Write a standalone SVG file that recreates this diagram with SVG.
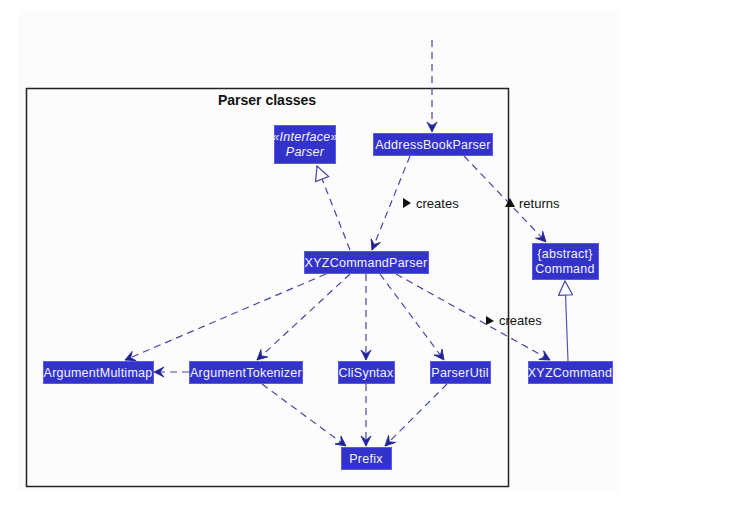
<svg xmlns="http://www.w3.org/2000/svg" width="748" height="507" viewBox="0 0 748 507">
<defs>
<style>
.node rect{fill:#3333cc;stroke:#5a5af0;stroke-width:1}
.node text{fill:#f4f4ff;font-family:"Liberation Sans",Arial,sans-serif;font-size:12.5px;letter-spacing:0.25px;text-anchor:middle}
.e{fill:none;stroke:#4444aa;stroke-width:1.2;stroke-dasharray:7,5}
.s{fill:none;stroke:#5555bb;stroke-width:1.2}
.lbl{font-family:"Liberation Sans",Arial,sans-serif;font-size:13px;fill:#111}
</style>
<marker id="v" viewBox="0 0 12 12" refX="11" refY="6" markerWidth="12" markerHeight="12" markerUnits="userSpaceOnUse" orient="auto">
<path d="M1,1 L11,6 L1,11 L5,6 Z" fill="#222299" stroke="#222299" stroke-width="0.8"/>
</marker>
<marker id="t" viewBox="0 0 16 16" refX="15" refY="8" markerWidth="16" markerHeight="16" markerUnits="userSpaceOnUse" orient="auto">
<path d="M1,1 L15,8 L1,15 Z" fill="#fff" stroke="#4444aa" stroke-width="1.2"/>
</marker>
</defs>
<rect x="0" y="0" width="748" height="507" fill="#ffffff"/>
<rect x="18" y="10" width="602" height="483" fill="#fcfcfc"/>
<g id="package">
<rect x="26.5" y="88.5" width="482" height="398" fill="none" stroke="#222" stroke-width="1.5"/>
<text x="267" y="105" font-family="Liberation Sans,Arial,sans-serif" font-size="14" font-weight="bold" text-anchor="middle" fill="#111">Parser classes</text>
</g>
<g id="connectors">
<path class="e" d="M432,40 L432,132" marker-end="url(#v)"/>
<path class="e" d="M350,250 L317,166" marker-end="url(#t)"/>
<path class="e" d="M410,156 L372,250" marker-end="url(#v)"/>
<path class="e" d="M464,156 L546,242" marker-end="url(#v)"/>
<path class="e" d="M326,274 L125,360" marker-end="url(#v)"/>
<path class="e" d="M350,274 L257,360" marker-end="url(#v)"/>
<path class="e" d="M366,274 L366,360" marker-end="url(#v)"/>
<path class="e" d="M380,274 L444,360" marker-end="url(#v)"/>
<path class="e" d="M396,274 L550,360" marker-end="url(#v)"/>
<path class="e" d="M189,372 L154,372" marker-end="url(#v)"/>
<path class="e" d="M262,384 L346,446" marker-end="url(#v)"/>
<path class="e" d="M366,384 L366,446" marker-end="url(#v)"/>
<path class="e" d="M447,384 L385,446" marker-end="url(#v)"/>
<path class="s" d="M568,361 L565,281" marker-end="url(#t)"/>
<path d="M403,198 L411,203 L403,208 Z" fill="#111"/>
<text class="lbl" x="416" y="208">creates</text>
<path d="M505,207 L510,198 L515,207 Z" fill="#111"/>
<text class="lbl" x="519" y="208">returns</text>
<path d="M486,316 L494,321 L486,325 Z" fill="#111"/>
<text class="lbl" x="499" y="325">creates</text>
</g>
<g id="Parser" class="node">
<rect x="274.5" y="125.5" width="61" height="38"/>
<text x="305" y="141" font-style="italic">«Interface»</text>
<text x="305" y="156" font-style="italic">Parser</text>
</g>
<g id="AddressBookParser" class="node">
<rect x="373.5" y="133.5" width="119" height="22"/>
<text x="433" y="149">AddressBookParser</text>
</g>
<g id="XYZCommandParser" class="node">
<rect x="304.5" y="251.5" width="124" height="22"/>
<text x="366" y="267">XYZCommandParser</text>
</g>
<g id="Command" class="node">
<rect x="532.5" y="243.5" width="66" height="36"/>
<text x="565" y="258">{abstract}</text>
<text x="565" y="273">Command</text>
</g>
<g id="ArgumentMultimap" class="node">
<rect x="43.5" y="361.5" width="110" height="22"/>
<text x="98" y="377">ArgumentMultimap</text>
</g>
<g id="ArgumentTokenizer" class="node">
<rect x="189.5" y="361.5" width="113" height="22"/>
<text x="246" y="377">ArgumentTokenizer</text>
</g>
<g id="CliSyntax" class="node">
<rect x="338.5" y="361.5" width="56" height="22"/>
<text x="366" y="377">CliSyntax</text>
</g>
<g id="ParserUtil" class="node">
<rect x="430.5" y="361.5" width="60" height="22"/>
<text x="460" y="377">ParserUtil</text>
</g>
<g id="XYZCommand" class="node">
<rect x="528.5" y="361.5" width="84" height="22"/>
<text x="570" y="377">XYZCommand</text>
</g>
<g id="Prefix" class="node">
<rect x="341.5" y="447.5" width="50" height="22"/>
<text x="366" y="463">Prefix</text>
</g>
</svg>
